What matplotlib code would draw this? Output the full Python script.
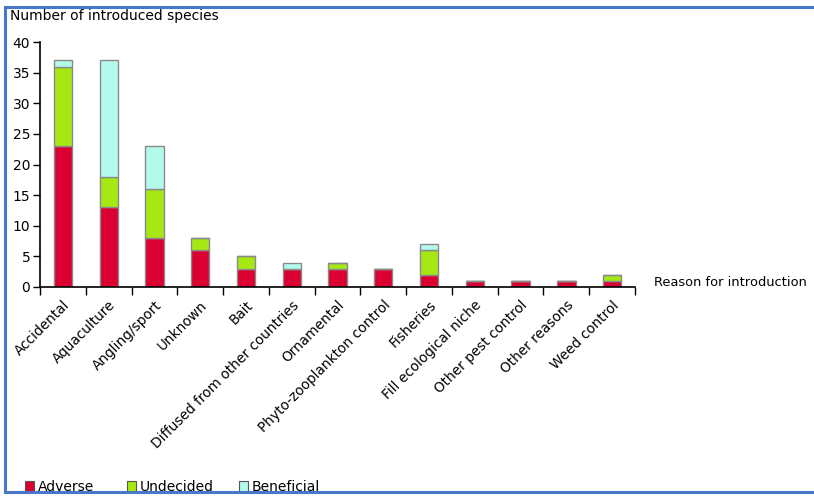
import matplotlib
matplotlib.use("Agg")
import matplotlib.pyplot as plt
from matplotlib.patches import Rectangle
from matplotlib.lines import Line2D
import numpy as np

categories = ["Accidental", "Aquaculture", "Angling/sport", "Unknown", "Bait",
              "Diffused from other countries", "Ornamental", "Phyto-zooplankton control",
              "Fisheries", "Fill ecological niche", "Other pest control",
              "Other reasons", "Weed control"]
adverse = [23, 13, 8, 6, 3, 3, 3, 3, 2, 1, 1, 1, 1]
undecided = [13, 5, 8, 2, 2, 0, 1, 0, 4, 0, 0, 0, 1]
beneficial = [1, 19, 7, 0, 0, 1, 0, 0, 1, 0, 0, 0, 0]
series_names = ["Adverse", "Undecided", "Beneficial"]
colors = ["#DC0032", "#A6E812", "#B2FAEC"]

plt.rcParams['font.family'] = ['DejaVu Sans']
fig = plt.figure(figsize=(8.14, 5.0), dpi=100)
ax = fig.add_axes([40/814, 1-287/500, (635-40)/814, (287-42)/500])

x = np.arange(len(categories))
adv = np.array(adverse); und = np.array(undecided); ben = np.array(beneficial)
w = 0.4
ec = "#8a8a8a"
ax.bar(x, adv, w, color=colors[0], edgecolor=ec, linewidth=1.0)
ax.bar(x, und, w, bottom=adv, color=colors[1], edgecolor=ec, linewidth=1.0)
ax.bar(x, ben, w, bottom=adv+und, color=colors[2], edgecolor=ec, linewidth=1.0)

ax.set_xlim(-0.5, len(categories)-0.5)
ax.set_ylim(0, 40)
ax.set_yticks(range(0, 41, 5))
ax.tick_params(axis='y', labelsize=10, length=5, width=1, pad=2)
for s in ['top', 'right']:
    ax.spines[s].set_visible(False)
for s in ['left', 'bottom']:
    ax.spines[s].set_linewidth(1.2)

# boundary ticks
ax.set_xticks(np.arange(-0.5, len(categories), 1.0))
ax.set_xticklabels([])
ax.tick_params(axis='x', length=6, width=1, direction='out')
ax.set_xticks(x, minor=True)
ax.set_xticklabels(categories, minor=True, rotation=45, ha='right', va='top',
                   rotation_mode='anchor', fontsize=9.8)
ax.tick_params(axis='x', which='minor', length=0, pad=8)

fig.text(10/814, 1-16/500, "Number of introduced species", fontsize=10, va='center', ha='left')
fig.text(654/814, 1-283/500, "Reason for introduction", fontsize=9.4, va='center', ha='left')

# legend
lx = [25, 127, 239]
for i, name in enumerate(series_names):
    fig.patches.append(Rectangle((lx[i]/814, 1-492/500), 9/814, 11/500,
                                 transform=fig.transFigure, facecolor=colors[i],
                                 edgecolor="#555555", linewidth=0.8))
    fig.text((lx[i]+13)/814, 1-487/500, name, fontsize=10, va='center', ha='left')

# blue frame (left, top, bottom only; right side is cut off)
fc = "#4A78C8"
L, T, B = 5/814, 1-7/500, 1-492/500
for xs, ys in [([L, L], [B, T]), ([L, 1.0], [T, T]), ([L, 1.0], [B, B])]:
    fig.lines.append(Line2D(xs, ys, transform=fig.transFigure, color=fc,
                            linewidth=2.2, solid_capstyle='projecting'))

fig.savefig("out.png", dpi=100)
